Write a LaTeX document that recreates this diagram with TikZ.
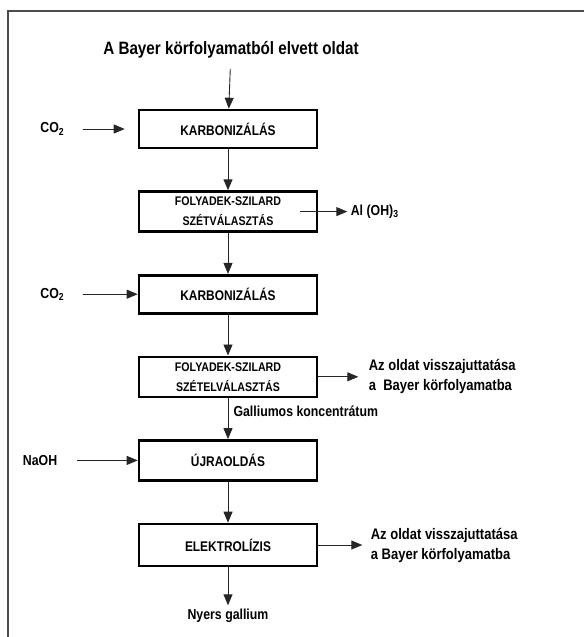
\documentclass[tikz,border=0pt]{standalone}
\usepackage{fontspec}
\setmainfont{Liberation Sans}[FakeStretch=0.85]
\usetikzlibrary{positioning, arrows.meta}

\begin{document}
\begin{tikzpicture}[x=1pt, y=-1pt, node distance=41pt, >={Triangle[length=11pt,width=9pt]},
    proc/.style={draw, line width=2.6pt, minimum width=178pt, minimum height=38pt, inner sep=2pt,
        align=center, font=\bfseries\fontsize{14}{15}\selectfont},
    proc2/.style={proc, minimum height=40pt, font=\bfseries\fontsize{12.5}{20}\selectfont},
    flow/.style={->, line width=0.9pt, draw=black!85},
    side/.style={font=\bfseries\fontsize{14.5}{20}\selectfont, align=left},
    back/.style={side, font=\bfseries\fontsize{15.3}{20}\selectfont}]
  \useasboundingbox (0,0) rectangle (584,637);
  % frame
  \draw[line width=1.6pt, black!70] (8,637) -- (8,11) -- (584,11);

  \node (src) at (231,50) {\bfseries\fontsize{17.9}{20}\selectfont A Bayer körfolyamatból elvett oldat};
  \node[proc] (karb1) at (228,129) {KARBONIZÁLÁS};
  \node[proc2] (sep1) [below=of karb1] {FOLYADEK-SZILARD\\SZÉTVÁLASZTÁS};
  \node[proc] (karb2) [below=of sep1] {KARBONIZÁLÁS};
  \node[proc2] (sep2) [below=of karb2] {FOLYADEK-SZILARD\\SZÉTELVÁLASZTÁS};
  \node[proc, minimum height=40pt] (ujra) [below=of sep2] {ÚJRAOLDÁS};
  \node[proc, minimum height=42pt] (elek) [below=of ujra] {ELEKTROLÍZIS};

  % inputs
  \node[side] (co2a) [left=70pt of karb1] {CO\textsubscript{2}};
  \node[side] (co2b) [left=70pt of karb2] {CO\textsubscript{2}};
  \node[side] (naoh) [left=77pt of ujra] {NaOH};

  % outputs
  \node[side] (aloh) [right=29pt of sep1] {Al (OH)\textsubscript{3}};
  \node[back] (ret1) [right=47pt of sep2] {Az oldat visszajuttatása\\a\ \ Bayer körfolyamatba};
  \node[back] (ret2) [right=49pt of elek] {Az oldat visszajuttatása\\a Bayer körfolyamatba};
  \node[side, anchor=west] (gconc) at (230,411) {Galliumos koncentrátum};
  \node[side] (nyers) [below=38pt of elek] {Nyers gallium};

  \draw[flow, shorten <=7pt] (src) -- (karb1);
  \draw[flow] (karb1) -- (sep1);
  \draw[flow] (sep1) -- (karb2);
  \draw[flow] (karb2) -- (sep2);
  \draw[flow] (sep2) -- (ujra);
  \draw[flow] (ujra) -- (elek);
  \draw[flow] (elek) -- (nyers);

  \draw[flow, shorten <=15pt, shorten >=13pt] (co2a) -- (karb1);
  \draw[flow, shorten <=15pt] (co2b) -- (karb2);
  \draw[flow, shorten <=16pt] (naoh) -- (ujra);

  \draw[flow, shorten <=-18pt] (sep1) -- (aloh);
  \draw[flow, shorten >=7pt] (sep2) -- (ret1);
  \draw[flow, shorten >=5pt] (elek) -- (ret2);
\end{tikzpicture}
\end{document}
